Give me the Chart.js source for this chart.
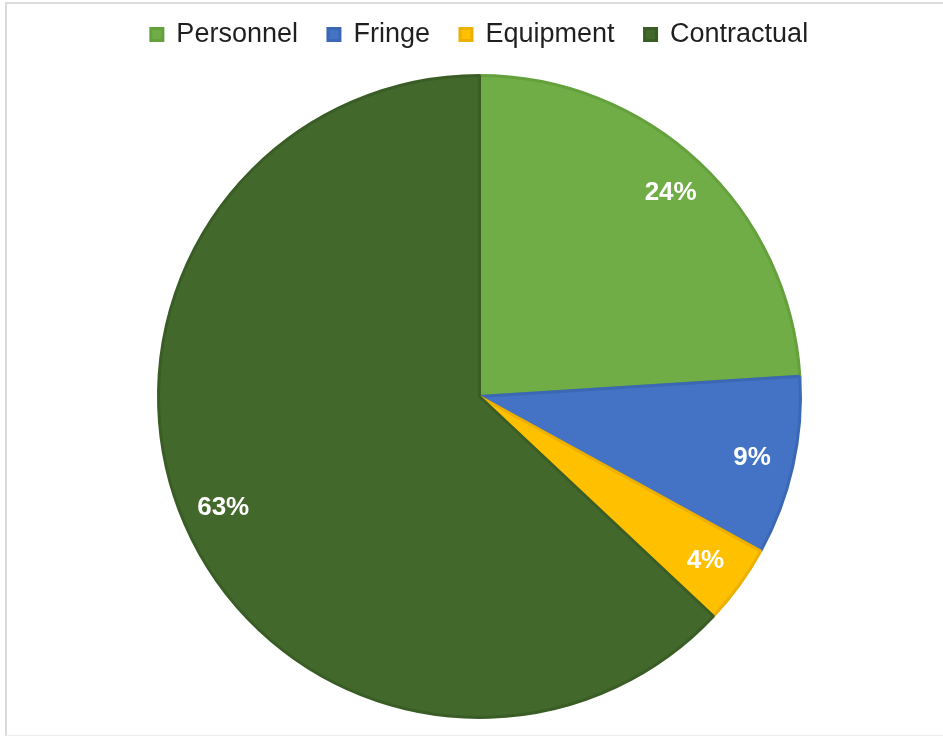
<!DOCTYPE html>
<html>
<head>
<meta charset="utf-8">
<script src="https://cdn.jsdelivr.net/npm/chart.js@4.4.0/dist/chart.umd.min.js"></script>
<style>
    html, body { margin: 0; padding: 0; background: #ffffff; }
    #wrap { position: relative; width: 943px; height: 736px; }
    #frame {
        position: absolute; left: 5px; top: 2px; width: 938px; height: 731px;
        border-left: 2px solid #dadada; border-top: 2px solid #dadada; border-bottom: 1px solid #eeeeee;
        pointer-events: none;
    }
    canvas { position: absolute; left: 0; top: 0; }
</style>
</head>
<body>
<div id="wrap">
    <canvas id="pie" width="943" height="736"></canvas>
    <div id="frame"></div>
</div>
<script>
// Budget categories and their share (%)
const categories = ['Personnel', 'Fringe', 'Equipment', 'Contractual'];
const shares = [24, 9, 4, 63];
const fillColors = ['#70AD47', '#4472C4', '#FFC000', '#43682B'];
const edgeColors = ['#64a03c', '#3c67b5', '#ebb000', '#3a5c25'];

// Extra room under the legend
const legendGap = {
    id: 'legendGap',
    beforeInit(chart) {
        const fit = chart.legend.fit;
        chart.legend.fit = function () {
            fit.bind(chart.legend)();
            this.height += 16;
        };
    }
};

// Draw percentage labels inside each slice
const sliceLabels = {
    id: 'sliceLabels',
    afterDatasetsDraw(chart) {
        const ctx = chart.ctx;
        const meta = chart.getDatasetMeta(0);
        ctx.save();
        ctx.font = 'bold 26px "Liberation Sans", Arial, sans-serif';
        ctx.fillStyle = '#ffffff';
        ctx.textAlign = 'center';
        ctx.textBaseline = 'middle';
        meta.data.forEach((arc, i) => {
            const p = arc.getProps(['x', 'y', 'startAngle', 'endAngle', 'outerRadius'], true);
            const mid = (p.startAngle + p.endAngle) / 2;
            const r = p.outerRadius * 0.87;
            ctx.fillText(shares[i] + '%', p.x + Math.cos(mid) * r, p.y + Math.sin(mid) * r);
        });
        ctx.restore();
    }
};

new Chart(document.getElementById('pie'), {
    type: 'pie',
    data: {
        labels: categories,
        datasets: [{
            data: shares,
            backgroundColor: fillColors,
            borderColor: edgeColors,
            borderWidth: 3
        }]
    },
    options: {
        responsive: false,
        animation: false,
        layout: { padding: { left: 16, right: 0, top: -9, bottom: 17 } },
        plugins: {
            legend: {
                position: 'top',
                labels: {
                    color: '#1f1f1f',
                    font: { family: '"Liberation Sans", Arial, sans-serif', size: 27 },
                    boxWidth: 12,
                    boxHeight: 12,
                    padding: 30
                }
            },
            tooltip: { enabled: false }
        }
    },
    plugins: [legendGap, sliceLabels]
});
</script>
</body>
</html>
